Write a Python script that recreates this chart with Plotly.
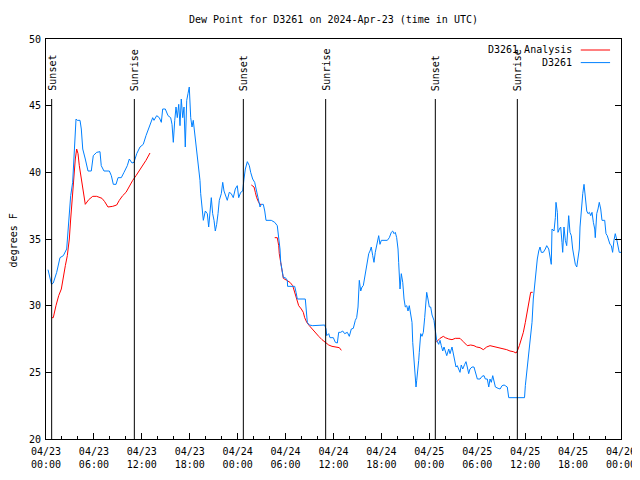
import pandas as pd
import plotly.graph_objects as go

base = pd.Timestamp("2024-04-23 00:00")

# D3261 observations: hours since 2024-04-23 00:00 UTC, dew point (F)
obs_hours = [
    0.25, 0.59, 0.69, 0.91, 1.34, 1.75, 2.17, 2.59, 2.75, 2.92,
    3.09, 3.34, 3.59, 3.76, 3.92, 4.26, 4.42, 4.60, 4.92, 5.26,
    5.67, 5.92, 6.35, 6.76, 6.92, 7.26, 7.93, 8.18, 8.43, 8.77,
    9.02, 9.43, 9.77, 10.18, 10.43, 10.77, 11.02, 11.36, 11.77, 12.18,
    12.52, 12.94, 13.36, 13.52, 13.86, 14.19, 14.44, 14.61, 14.94, 15.28,
    15.61, 15.78, 15.94, 16.12, 16.28, 16.44, 16.62, 16.78, 16.94, 17.12,
    17.28, 17.44, 17.62, 17.78, 17.94, 18.12, 18.28, 18.44, 18.70, 18.95,
    19.12, 19.28, 19.37, 19.53, 19.70, 19.95, 20.20, 20.37, 20.54, 20.70,
    20.87, 21.04, 21.20, 21.37, 21.54, 21.70, 21.95, 22.13, 22.29, 22.45,
    22.70, 22.95, 23.20, 23.45, 23.70, 23.95, 24.13, 24.38, 24.63, 24.79,
    24.96, 25.21, 25.46, 25.63, 25.88, 26.13, 26.38, 26.63, 26.80, 26.96,
    27.21, 27.39, 27.55, 28.21, 28.64, 28.96, 29.05, 29.21, 29.30, 29.39,
    29.55, 29.72, 29.97, 30.22, 30.25, 31.14, 31.31, 31.47, 32.47, 32.65,
    32.72, 32.97, 33.40, 34.90, 35.06, 35.15, 35.40, 35.56, 35.98, 36.23,
    36.48, 36.65, 36.90, 37.15, 37.40, 37.73, 37.98, 38.23, 38.48, 38.73,
    38.90, 39.07, 39.16, 39.23, 39.41, 39.57, 39.73, 39.91, 40.07, 40.23,
    40.41, 40.57, 40.73, 40.91, 41.07, 41.23, 41.41, 41.66, 41.82, 41.99,
    42.74, 42.99, 43.24, 43.41, 43.58, 43.74, 43.91, 44.08, 44.16, 44.24,
    44.33, 44.49, 44.67, 44.83, 44.99, 45.17, 45.33, 45.49, 45.67, 45.83,
    45.92, 46.08, 46.24, 46.33, 46.42, 46.58, 46.67, 46.74, 46.92, 47.08,
    47.25, 47.42, 47.58, 47.67, 47.83, 48.00, 48.17, 48.34, 48.58, 48.75,
    48.92, 49.17, 49.34, 49.50, 49.68, 49.84, 50.00, 50.18, 50.43, 50.59,
    50.84, 51.00, 51.18, 51.34, 51.50, 51.68, 51.84, 52.00, 52.18, 52.43,
    52.59, 52.75, 52.93, 53.09, 53.34, 53.59, 53.76, 54.01, 54.35, 54.60,
    54.85, 55.01, 55.26, 55.44, 55.60, 55.76, 55.94, 56.10, 56.27, 56.61,
    56.86, 57.11, 57.36, 57.51, 57.76, 57.94, 59.92, 60.02, 60.27, 60.52,
    60.69, 60.86, 61.02, 61.19, 61.36, 61.52, 61.70, 61.86, 62.02, 62.27,
    62.52, 62.70, 62.95, 63.11, 63.27, 63.36, 63.61, 63.78, 63.86, 64.03,
    64.11, 64.28, 64.45, 64.61, 64.70, 64.86, 65.03, 65.20, 65.36, 65.45,
    65.61, 65.78, 65.95, 66.12, 66.28, 66.46, 66.62, 66.78, 66.87, 67.03,
    67.21, 67.37, 67.53, 67.71, 67.87, 68.04, 68.21, 68.37, 68.54, 68.71,
    68.78, 68.96, 69.12, 69.28, 69.46, 69.62, 69.96, 70.12, 70.28, 70.46,
    70.62, 70.79, 70.95, 71.12, 71.28, 71.45, 71.62, 71.78, 72.0,
]
obs_dewpt = [
    32.7, 32.0, 31.6, 31.7, 32.5, 33.6, 33.75, 34.25, 35.5, 37.25,
    38.25, 39.25, 42.3, 44.0, 43.9, 43.9, 43.25, 41.75, 41.0, 40.1,
    40.1, 41.25, 41.5, 41.55, 40.5, 40.1, 40.1, 39.75, 39.1, 39.1,
    39.6, 39.6, 40.0, 40.5, 41.0, 40.7, 40.75, 41.4, 41.9, 42.1,
    42.75, 43.4, 44.1, 43.9, 44.25, 44.1, 43.75, 44.75, 44.75, 44.25,
    44.1, 43.6, 42.25, 43.9, 44.9, 44.1, 45.1, 43.5, 45.5, 44.1,
    44.9, 41.9, 45.4, 45.9, 46.4, 44.1, 43.4, 43.9, 42.4, 41.4,
    40.4, 39.4, 38.4, 37.4, 36.4, 37.1, 36.9, 35.9, 37.4, 38.1,
    36.9, 36.4, 35.6, 36.1, 36.9, 37.9, 38.4, 39.25, 38.6, 38.25,
    37.9, 38.5, 38.4, 38.1, 38.75, 39.0, 38.1, 38.5, 38.6, 39.5,
    40.25, 40.8, 40.5, 40.0, 39.5, 39.25, 38.5, 37.75, 37.4, 37.6,
    37.6, 37.1, 36.4, 36.4, 36.25, 36.0, 35.5, 34.9, 34.25, 33.25,
    32.6, 32.1, 32.1, 31.9, 31.45, 31.45, 31.0, 30.5, 30.5, 29.25,
    28.75, 28.55, 28.5, 28.55, 28.25, 27.75, 27.9, 27.6, 27.6, 27.25,
    27.2, 28.0, 28.0, 28.1, 27.9, 28.0, 27.7, 28.25, 28.3, 28.9,
    29.1, 29.9, 31.25, 31.9, 31.1, 31.4, 31.5, 32.1, 32.75, 33.25,
    33.9, 34.1, 34.4, 33.75, 33.25, 34.0, 34.6, 35.25, 34.6, 34.9,
    34.9, 35.1, 35.5, 35.6, 35.4, 35.5, 35.1, 34.25, 33.25, 32.6,
    31.25, 32.4, 31.75, 30.5, 29.9, 30.0, 29.6, 30.0, 29.4, 28.75,
    27.25, 25.9, 24.5, 23.9, 24.4, 25.1, 25.9, 26.5, 27.9, 27.7,
    28.0, 29.1, 30.0, 31.0, 30.5, 29.9, 29.9, 29.3, 28.9, 28.1,
    27.4, 27.1, 27.4, 27.0, 26.6, 26.9, 26.5, 26.25, 26.75, 26.4,
    26.9, 26.4, 26.0, 25.4, 25.5, 25.25, 25.0, 25.55, 25.25, 25.6,
    25.8, 25.4, 24.9, 25.25, 25.4, 25.4, 25.1, 24.5, 24.5, 24.7,
    24.75, 24.5, 24.5, 23.9, 24.5, 24.25, 24.75, 24.25, 23.9, 23.8,
    23.75, 24.0, 24.05, 24.0, 23.9, 23.1, 23.1, 24.0, 25.5, 26.75,
    27.75, 28.75, 30.5, 31.75, 32.5, 33.5, 34.1, 34.4, 34.0, 34.0,
    34.25, 34.5, 34.25, 33.6, 33.1, 35.75, 35.6, 36.6, 37.75, 37.0,
    35.5, 35.75, 35.9, 34.75, 34.0, 35.9, 34.9, 34.5, 35.9, 36.75,
    35.5, 35.25, 34.25, 33.6, 33.1, 32.9, 33.5, 34.25, 35.9, 37.5,
    38.4, 39.1, 38.25, 37.1, 36.9, 37.0, 36.75, 37.0, 36.25, 35.75,
    35.1, 36.9, 37.25, 37.75, 37.25, 36.4, 36.4, 35.4, 35.25, 34.9,
    34.6, 34.5, 34.0, 34.9, 35.4, 35.0, 34.6, 34.0, 34.0,
]

# D3261 Analysis (None = gap)
ana_hours = [
    0.75, 0.91, 1.25, 1.59, 1.92, 2.17, 2.42, 2.67, 2.92, 3.09,
    3.26, 3.51, 3.67, 3.84, 4.01, 4.17, 4.35, 4.60, 4.92, 5.35,
    5.85, 6.35, 7.01, 7.35, 7.76, 8.35, 8.85, 9.18, 9.60, 10.02,
    10.36, 10.86, 11.27, 11.68, 12.11, 12.52, 13.02, None,
    25.71, 26.05, 26.21, 26.38, 26.63, 26.80, 26.96, None,
    28.64, 28.96, 29.14, 29.21, 29.39, 29.55, 29.72, 30.14, 30.55, 30.89,
    31.14, 31.39, 31.64, 31.97, 32.22, 32.39, 32.65, 32.97, 33.31, 33.72,
    34.15, 34.56, 34.97, 35.40, 35.81, 36.40, 36.73, 36.98, None,
    48.84, 49.09, 49.34, 49.75, 50.00, 50.43, 50.84, 51.25, 51.84, 52.25,
    52.75, 53.18, 53.59, 53.93, 54.35, 54.76, 55.18, 55.60, 56.01, 56.44,
    56.85, 57.26, 57.69, 58.10, 58.52, 58.86, 59.02, 59.27, 59.52, 59.77,
    60.02, 60.19, 60.35, 60.52, 60.69, 60.94,
]
ana_dewpt = [
    29.1, 29.1, 30.0, 30.75, 31.25, 32.25, 33.0, 33.75, 35.0, 36.5,
    38.0, 39.75, 41.0, 41.75, 41.4, 40.5, 39.75, 39.0, 37.6, 37.95,
    38.2, 38.2, 38.05, 37.8, 37.4, 37.45, 37.55, 37.9, 38.25, 38.5,
    38.9, 39.4, 39.75, 40.1, 40.55, 40.9, 41.45, None,
    39.05, 38.9, 38.5, 38.1, 37.75, 37.6, 37.6, None,
    35.1, 35.1, 34.5, 33.9, 33.25, 32.5, 32.05, 31.9, 31.75, 31.5,
    31.0, 30.5, 30.0, 29.75, 29.5, 29.1, 28.75, 28.5, 28.25, 28.0,
    27.7, 27.45, 27.25, 27.05, 26.95, 26.9, 26.85, 26.65, None,
    27.25, 27.4, 27.55, 27.7, 27.6, 27.5, 27.45, 27.55, 27.55, 27.3,
    27.0, 27.05, 27.0, 26.9, 26.85, 26.7, 26.9, 27.0, 26.95, 26.9,
    26.85, 26.75, 26.7, 26.6, 26.55, 26.45, 26.6, 27.0, 27.5, 28.0,
    28.75, 29.25, 29.9, 30.4, 31.0, 31.0,
]

sun_hours = [0.71, 11.06, 24.71, 35.02, 48.75, 59.02]
sun_labels = ["Sunset", "Sunrise", "Sunset", "Sunrise", "Sunset", "Sunrise"]

x_tick_hours = list(range(0, 73, 6))
y_ticks = [20, 25, 30, 35, 40, 45, 50]

FONT = "DejaVu Sans Mono"

# the page body has an 8px margin: size the figure so it fits the window
FIG_W, FIG_H = 632, 472


def to_time(h):
    return None if h is None else base + pd.Timedelta(hours=h)


n = min(len(obs_hours), len(obs_dewpt))
obs_t = [to_time(h) for h in obs_hours[:n]]
m = min(len(ana_hours), len(ana_dewpt))
ana_t = [to_time(h) for h in ana_hours[:m]]

fig = go.Figure()
fig.add_trace(go.Scatter(x=ana_t, y=ana_dewpt[:m], mode="lines",
                         name="D3261 Analysis", connectgaps=False,
                         line=dict(color="#ff0000", width=1)))
fig.add_trace(go.Scatter(x=obs_t, y=obs_dewpt[:n], mode="lines",
                         name="D3261",
                         line=dict(color="#0080ff", width=1)))

shapes = []
annotations = []
for h, lab in zip(sun_hours, sun_labels):
    t = to_time(h)
    shapes.append(dict(type="line", xref="x", yref="paper", x0=t, x1=t,
                       y0=0, y1=0.85, line=dict(color="black", width=1)))
    annotations.append(dict(x=t, y=0.865, xref="x", yref="paper", text=lab,
                            textangle=-90, showarrow=False, xanchor="center",
                            yanchor="bottom",
                            font=dict(family=FONT, size=10, color="black")))

# manual gnuplot-style legend (text then sample line)
leg = [("D3261 Analysis", "#ff0000", 0.9725), ("D3261", "#0080ff", 0.941)]
for txt, col, yy in leg:
    annotations.append(dict(x=0.919, y=yy, xref="paper", yref="paper", text=txt,
                            showarrow=False, xanchor="right", yanchor="middle",
                            font=dict(family=FONT, size=10, color="black")))
    shapes.append(dict(type="line", xref="paper", yref="paper", x0=0.930,
                       x1=0.981, y0=yy, y1=yy, line=dict(color=col, width=1)))

annotations.append(dict(x=-0.056, y=0.496, xref="paper", yref="paper",
                        text="degrees F", textangle=-90, showarrow=False,
                        xanchor="center", yanchor="middle",
                        font=dict(family=FONT, size=10, color="black")))

tickvals = [to_time(h) for h in x_tick_hours]
ticktext = [t.strftime("%m/%d") + "<br>" + t.strftime("%H:%M") for t in tickvals]

axis_common = dict(showline=True, linecolor="black", linewidth=1,
                   ticks="inside", ticklen=6, tickcolor="black", tickwidth=1,
                   showgrid=False, zeroline=False, automargin=False,
                   tickfont=dict(family=FONT, size=10, color="black"))
minor_x = dict(ticks="inside", ticklen=3, tickcolor="black",
               dtick=2 * 3600 * 1000, tick0=to_time(0), showgrid=False)

fig.update_layout(
    width=FIG_W, height=FIG_H,
    margin=dict(l=38, r=19, t=31, b=41, autoexpand=False),
    paper_bgcolor="white", plot_bgcolor="white",
    showlegend=False,
    title=dict(text="Dew Point for D3261 on 2024-Apr-23 (time in UTC)",
               x=0.5, xref="paper", xanchor="center",
               y=1 - 11 / FIG_H, yref="container", yanchor="middle",
               font=dict(family=FONT, size=10, color="black")),
    font=dict(family=FONT, size=10, color="black"),
    shapes=shapes, annotations=annotations,
    xaxis=dict(type="date", range=[to_time(0), to_time(72)],
               tickvals=tickvals, ticktext=ticktext, mirror=True,
               ticklabelstandoff=3, minor=minor_x, **axis_common),
    xaxis2=dict(type="date", range=[to_time(0), to_time(72)],
                overlaying="x", side="top", anchor="y",
                tickvals=tickvals, showticklabels=False,
                minor=minor_x, **axis_common),
    yaxis=dict(range=[20, 50], tickvals=y_ticks, mirror="allticks",
               ticklabelstandoff=2, **axis_common),
)

fig.write_html("out.html")
